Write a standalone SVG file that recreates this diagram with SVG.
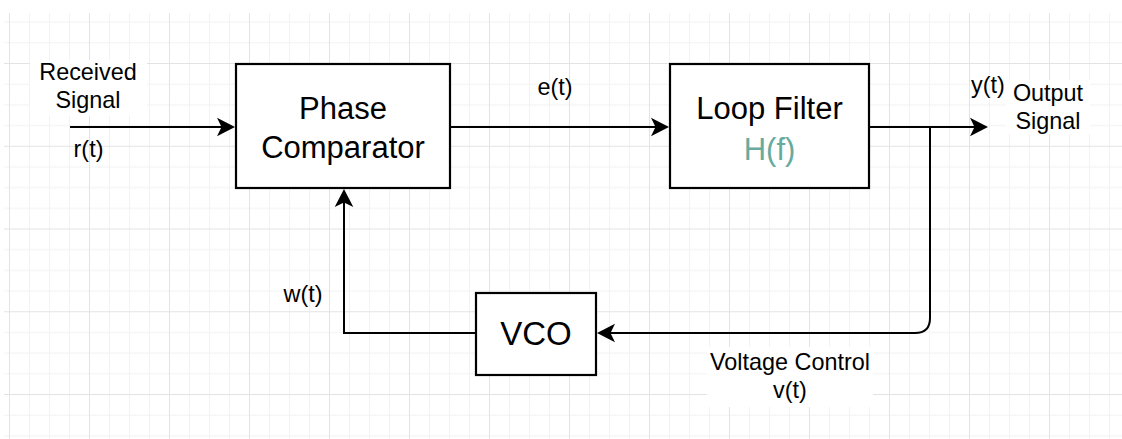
<svg xmlns="http://www.w3.org/2000/svg" width="1122" height="439" viewBox="0 0 1122 439">
  <style>
    .box { fill: #ffffff; stroke: #000000; stroke-width: 2.2; }
    .t { font-family: "Liberation Sans", Arial, sans-serif; fill: #000000; text-anchor: middle; }
    .big { font-size: 31px; }
    .sm { font-size: 23.4px; }
    .wire { fill: none; stroke: #000000; stroke-width: 2; }
    .minor { stroke: #f2f2f2; stroke-width: 1; }
    .major { stroke: #e3e3e3; stroke-width: 1; }
    .bg { fill: #ffffff; }
  </style>
  <defs>
    <pattern id="grid" patternUnits="userSpaceOnUse" x="9" y="63" width="80" height="82.75">
      <line class="minor" x1="20.5" y1="0" x2="20.5" y2="82.75"/>
      <line class="minor" x1="40.5" y1="0" x2="40.5" y2="82.75"/>
      <line class="minor" x1="60.5" y1="0" x2="60.5" y2="82.75"/>
      <line class="minor" x1="0" y1="21.19" x2="80" y2="21.19"/>
      <line class="minor" x1="0" y1="41.88" x2="80" y2="41.88"/>
      <line class="minor" x1="0" y1="62.56" x2="80" y2="62.56"/>
      <line class="major" x1="0.5" y1="0" x2="0.5" y2="82.75"/>
      <line class="major" x1="0" y1="0.5" x2="80" y2="0.5"/>
    </pattern>
    <marker id="arrow" markerUnits="userSpaceOnUse" markerWidth="20" markerHeight="20" refX="6" refY="9.3" orient="auto" overflow="visible">
      <path d="M 0 0 L 18 9.3 L 0 18.6 L 4.5 9.3 Z" fill="#000000"/>
    </marker>
  </defs>

  <rect x="0" y="0" width="1122" height="439" fill="#ffffff"/>
  <rect x="4" y="13" width="1118" height="426" fill="url(#grid)"/>

  <g id="connectors">
    <path class="wire" d="M 70 127 H 223" marker-end="url(#arrow)"/>
    <path class="wire" d="M 450 127 H 657" marker-end="url(#arrow)"/>
    <path class="wire" d="M 869 127 H 976" marker-end="url(#arrow)"/>
    <path class="wire" d="M 930 127 V 318 Q 930 333 915 333 H 609" marker-end="url(#arrow)"/>
    <path class="wire" d="M 476 333 H 344 V 201" marker-end="url(#arrow)"/>
  </g>

  <g id="phase-comparator">
    <rect class="box" x="236" y="64" width="214" height="124"/>
    <text class="t big" x="343" y="119">Phase</text>
    <text class="t big" x="343" y="158">Comparator</text>
  </g>

  <g id="loop-filter">
    <rect class="box" x="670" y="64" width="199" height="124"/>
    <text class="t big" x="769.5" y="119">Loop Filter</text>
    <text class="t big" x="769.5" y="160" style="fill:#67AB9F">H(f)</text>
  </g>

  <g id="vco">
    <rect class="box" x="476" y="293" width="120" height="82"/>
    <text class="t" x="536" y="345" style="font-size:33px">VCO</text>
  </g>

  <g id="label-received">
    <rect class="bg" x="30" y="60" width="117" height="56"/>
    <text class="t sm" x="88" y="80">Received</text>
    <text class="t sm" x="88" y="108">Signal</text>
  </g>
  <g id="label-rt">
    <text class="t sm" x="88.5" y="157">r(t)</text>
  </g>
  <g id="label-et">
    <text class="t sm" x="555" y="95">e(t)</text>
  </g>
  <g id="label-yt">
    <text class="t sm" x="988" y="93">y(t)</text>
  </g>
  <g id="label-output">
    <rect class="bg" x="1006" y="80" width="84" height="54"/>
    <text class="t sm" x="1048" y="101">Output</text>
    <text class="t sm" x="1048" y="129">Signal</text>
  </g>
  <g id="label-wt">
    <text class="t sm" x="303" y="302">w(t)</text>
  </g>
  <g id="label-voltage">
    <rect class="bg" x="707" y="347" width="166" height="60"/>
    <text class="t sm" x="790" y="370">Voltage Control</text>
    <text class="t sm" x="790" y="398">v(t)</text>
  </g>
</svg>
